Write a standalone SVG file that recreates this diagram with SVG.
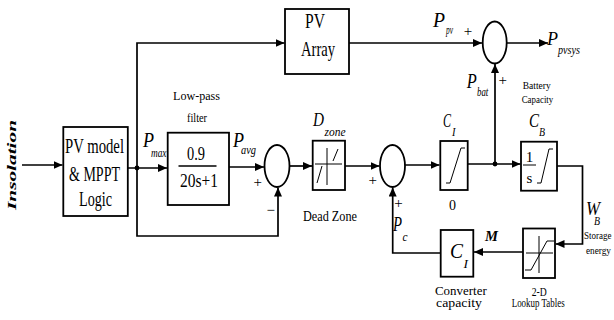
<svg xmlns="http://www.w3.org/2000/svg" width="614" height="320" viewBox="0 0 614 320">
<defs>
<style>
.t{font-family:"Liberation Serif","Times New Roman",serif;fill:#000;font-weight:normal}
.i{font-style:italic}
.b{font-weight:bold}
.ln{stroke:#000;stroke-width:1.7;fill:none}
.box{stroke:#000;stroke-width:1.8;fill:#fff}
.sym{stroke:#000;stroke-width:1;fill:none}
</style>
<marker id="ar" markerUnits="userSpaceOnUse" markerWidth="9" markerHeight="8" refX="9" refY="4" orient="auto">
<path d="M0,0 L9,4 L0,8 z" fill="#000"/>
</marker>
</defs>
<rect width="614" height="320" fill="#fff"/>

<g id="connectors">
<path class="ln" d="M22,165 H62.5" marker-end="url(#ar)"/>
<path class="ln" d="M128,168 H167" marker-end="url(#ar)"/>
<path class="ln" d="M137,168 V43 H284.5" marker-end="url(#ar)"/>
<path class="ln" d="M137,168 V236 H278 V187.5" marker-end="url(#ar)"/>
<path class="ln" d="M229,167 H264" marker-end="url(#ar)"/>
<path class="ln" d="M289.5,166 H312" marker-end="url(#ar)"/>
<path class="ln" d="M345,166 H379.5" marker-end="url(#ar)"/>
<path class="ln" d="M405,165 H439.5" marker-end="url(#ar)"/>
<path class="ln" d="M467.5,164 H520.5" marker-end="url(#ar)"/>
<path class="ln" d="M495,164 V64" marker-end="url(#ar)"/>
<path class="ln" d="M349,43 H482" marker-end="url(#ar)"/>
<path class="ln" d="M507,43 H548" marker-end="url(#ar)"/>
<path class="ln" d="M557,166 H582.5 V244 H555.5" marker-end="url(#ar)"/>
<path class="ln" d="M523,252 H474" marker-end="url(#ar)"/>
<path class="ln" d="M440.7,253 H392.7 V187.5" marker-end="url(#ar)"/>
<circle cx="137" cy="168" r="2.4" fill="#000"/>
<circle cx="495" cy="164" r="2.4" fill="#000"/>
</g>

<g id="insolation">
<text class="t i b" transform="translate(15.5,165) rotate(-90)" font-size="13" text-anchor="middle" textLength="90" lengthAdjust="spacingAndGlyphs">Insolation</text>
</g>

<g id="pv-model">
<rect class="box" x="63.3" y="127" width="64.5" height="89"/>
<text class="t" x="65" y="153" font-size="21" textLength="59" lengthAdjust="spacingAndGlyphs">PV model</text>
<text class="t" x="69" y="181" font-size="21" textLength="51" lengthAdjust="spacingAndGlyphs">&amp; MPPT</text>
<text class="t" x="79" y="206" font-size="21" textLength="33" lengthAdjust="spacingAndGlyphs">Logic</text>
</g>

<g id="pmax">
<text class="t i" x="143" y="147" font-size="21" textLength="11" lengthAdjust="spacingAndGlyphs">P</text>
<text class="t i" x="151" y="157" font-size="12" textLength="15.5" lengthAdjust="spacingAndGlyphs">max</text>
</g>

<g id="pv-array">
<rect class="box" x="285" y="9" width="64" height="65"/>
<text class="t" x="305" y="28" font-size="21" textLength="20" lengthAdjust="spacingAndGlyphs">PV</text>
<text class="t" x="301" y="56" font-size="21" textLength="34" lengthAdjust="spacingAndGlyphs">Array</text>
</g>

<g id="low-pass-filter">
<text class="t" x="173" y="100" font-size="13" textLength="47" lengthAdjust="spacingAndGlyphs">Low-pass</text>
<text class="t" x="187" y="122" font-size="13" textLength="20" lengthAdjust="spacingAndGlyphs">filter</text>
<rect class="box" x="167.7" y="132.7" width="61.3" height="72.3"/>
<text class="t" x="187" y="160" font-size="19" textLength="18" lengthAdjust="spacingAndGlyphs">0.9</text>
<line class="ln" x1="178.5" y1="166" x2="216.5" y2="166"/>
<text class="t" x="180" y="187" font-size="19" textLength="38" lengthAdjust="spacingAndGlyphs">20s+1</text>
</g>

<g id="pavg">
<text class="t i" x="233" y="146.5" font-size="21" textLength="11" lengthAdjust="spacingAndGlyphs">P</text>
<text class="t i" x="241" y="154" font-size="12" textLength="15" lengthAdjust="spacingAndGlyphs">avg</text>
</g>

<g id="sum1">
<ellipse class="box" cx="277" cy="166" rx="12.5" ry="21"/>
<text class="t" x="257.7" y="187" font-size="15" text-anchor="middle">+</text>
<text class="t" x="270.7" y="215" font-size="15" text-anchor="middle">−</text>
</g>

<g id="dead-zone">
<text class="t i" x="313" y="126" font-size="19" textLength="11" lengthAdjust="spacingAndGlyphs">D</text>
<text class="t i" x="324.5" y="136" font-size="13" textLength="21" lengthAdjust="spacingAndGlyphs">zone</text>
<rect class="box" x="312.7" y="140.7" width="32.3" height="49.3"/>
<path class="sym" d="M327,148 V185 M315,164 H342 M317,183 L322,166 M333,161 L338,149"/>
<text class="t" x="303" y="221" font-size="14" textLength="54" lengthAdjust="spacingAndGlyphs">Dead Zone</text>
</g>

<g id="sum2">
<ellipse class="box" cx="392.5" cy="166" rx="12.5" ry="21"/>
<text class="t" x="372.7" y="185" font-size="15" text-anchor="middle">+</text>
<text class="t" x="398.5" y="208" font-size="15" text-anchor="middle">+</text>
</g>

<g id="pc">
<text class="t i" x="393" y="231" font-size="22" textLength="9" lengthAdjust="spacingAndGlyphs">P</text>
<text class="t i" x="402.5" y="241" font-size="13" textLength="5" lengthAdjust="spacingAndGlyphs">c</text>
</g>

<g id="c1-saturation">
<text class="t i" x="443" y="127" font-size="18" textLength="8" lengthAdjust="spacingAndGlyphs">C</text>
<text class="t i" x="452" y="136" font-size="12" textLength="3.5" lengthAdjust="spacingAndGlyphs">I</text>
<rect class="box" x="440.3" y="141" width="27.4" height="49"/>
<path class="sym" d="M446,183 H450 L461,148 H465"/>
<text class="t" x="449" y="210" font-size="15" textLength="7" lengthAdjust="spacingAndGlyphs">0</text>
</g>

<g id="sum3">
<ellipse class="box" cx="494.7" cy="42.5" rx="12" ry="21"/>
<text class="t" x="468" y="36" font-size="15" text-anchor="middle">+</text>
<text class="t" x="502.7" y="85" font-size="15" text-anchor="middle">+</text>
</g>

<g id="ppv">
<text class="t i" x="433" y="26.7" font-size="20" textLength="12" lengthAdjust="spacingAndGlyphs">P</text>
<text class="t i" x="446" y="34" font-size="12" textLength="7" lengthAdjust="spacingAndGlyphs">pv</text>
</g>

<g id="pbat">
<text class="t i" x="466.7" y="88" font-size="21" textLength="10" lengthAdjust="spacingAndGlyphs">P</text>
<text class="t i" x="477" y="96" font-size="13" textLength="11.3" lengthAdjust="spacingAndGlyphs">bat</text>
</g>

<g id="ppvsys">
<text class="t i" x="547" y="45" font-size="19" textLength="11" lengthAdjust="spacingAndGlyphs">P</text>
<text class="t i" x="558" y="54" font-size="12" textLength="22" lengthAdjust="spacingAndGlyphs">pvsys</text>
</g>

<g id="battery-capacity">
<text class="t" x="522.7" y="89" font-size="11" textLength="28" lengthAdjust="spacingAndGlyphs">Battery</text>
<text class="t" x="521.7" y="103" font-size="11" textLength="31.6" lengthAdjust="spacingAndGlyphs">Capacity</text>
<text class="t i" x="529" y="127" font-size="18" textLength="10" lengthAdjust="spacingAndGlyphs">C</text>
<text class="t i" x="539" y="136" font-size="12" textLength="6" lengthAdjust="spacingAndGlyphs">B</text>
<rect class="box" x="521" y="141.7" width="36" height="49"/>
<text class="t" x="529.5" y="162" font-size="15" text-anchor="middle">1</text>
<line class="sym" x1="523" y1="165" x2="536" y2="165"/>
<text class="t" x="529.5" y="183" font-size="15" text-anchor="middle">s</text>
<path class="sym" d="M537,183 H541 L549,149 H553"/>
</g>

<g id="wb">
<text class="t i" x="586" y="215" font-size="19" textLength="14" lengthAdjust="spacingAndGlyphs">W</text>
<text class="t i" x="594" y="225" font-size="12" textLength="6" lengthAdjust="spacingAndGlyphs">B</text>
<text class="t" x="584" y="239" font-size="11" textLength="27.5" lengthAdjust="spacingAndGlyphs">Storage</text>
<text class="t" x="586" y="254" font-size="11" textLength="25" lengthAdjust="spacingAndGlyphs">energy</text>
</g>

<g id="lookup-table">
<rect class="box" x="523" y="228.5" width="32" height="49.5"/>
<path class="sym" d="M539,236 V273 M526,253 H553 M525,270 H531 L547,241 H554"/>
<text class="t" x="531.7" y="296" font-size="13" textLength="15" lengthAdjust="spacingAndGlyphs">2-D</text>
<text class="t" x="511.7" y="307" font-size="13" textLength="53" lengthAdjust="spacingAndGlyphs">Lookup Tables</text>
</g>

<g id="m-label">
<text class="t i b" x="485" y="241" font-size="14" textLength="13" lengthAdjust="spacingAndGlyphs">M</text>
</g>

<g id="converter">
<rect class="box" x="440.7" y="230" width="32.6" height="46.7"/>
<text class="t i" x="450" y="258" font-size="22" textLength="13" lengthAdjust="spacingAndGlyphs">C</text>
<text class="t i" x="463.5" y="268" font-size="13" textLength="4.5" lengthAdjust="spacingAndGlyphs">I</text>
<text class="t" x="435" y="295" font-size="13" textLength="51.7" lengthAdjust="spacingAndGlyphs">Converter</text>
<text class="t" x="436" y="307" font-size="13" textLength="46" lengthAdjust="spacingAndGlyphs">capacity</text>
</g>
</svg>
